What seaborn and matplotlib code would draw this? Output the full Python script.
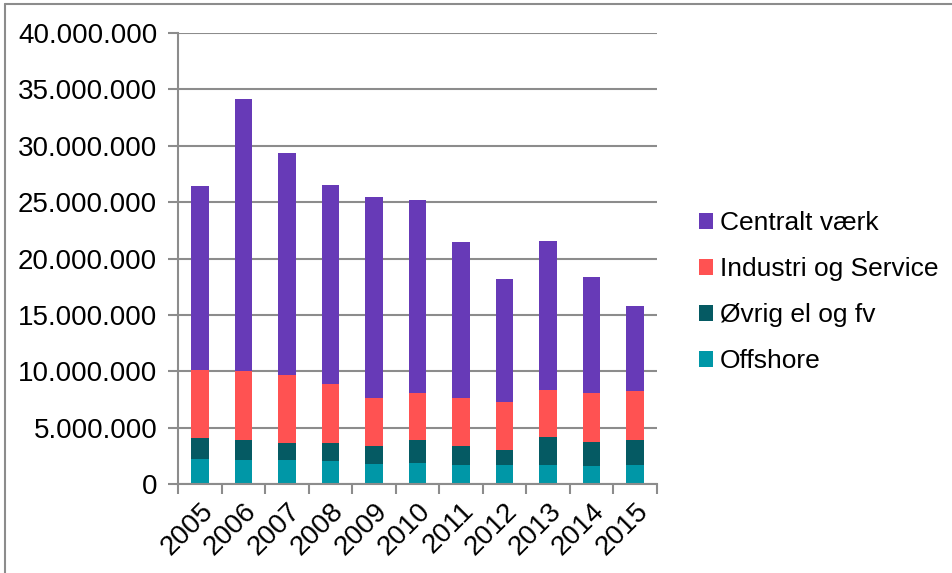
import numpy as np
import pandas as pd
import seaborn as sns
import matplotlib.pyplot as plt
from matplotlib.lines import Line2D
from matplotlib.ticker import FuncFormatter, MultipleLocator

years = ['2005', '2006', '2007', '2008', '2009', '2010', '2011', '2012', '2013', '2014', '2015']
offshore = [2.22, 2.16, 2.16, 2.04, 1.81, 1.88, 1.72, 1.72, 1.72, 1.63, 1.72]
ovrig = [1.89, 1.75, 1.48, 1.57, 1.56, 2.02, 1.63, 1.27, 2.43, 2.13, 2.16]
industri = [6.04, 6.07, 6.04, 5.30, 4.30, 4.20, 4.29, 4.30, 4.20, 4.27, 4.38]
central = [16.32, 24.18, 19.72, 17.61, 17.79, 17.13, 13.78, 10.87, 13.21, 10.33, 7.50]

series = ['Offshore', 'Øvrig el og fv', 'Industri og Service', 'Centralt værk']
colors = ['#0097A7', '#055A63', '#FF5252', '#673AB7']

df = pd.DataFrame({'year': years, 'Offshore': offshore, 'Øvrig el og fv': ovrig,
                   'Industri og Service': industri, 'Centralt værk': central})
for s in series:
    df[s] = df[s] * 1e6

sns.set_theme(style='white')
plt.rcParams['font.family'] = ['Liberation Sans', 'DejaVu Sans']

fig = plt.figure(figsize=(9.52, 5.73), dpi=100)
ax = fig.add_axes([0.187, 0.1553, 0.503, 0.7871])

# stacked bars: draw cumulative totals from top series down
cum = df[series].cumsum(axis=1)
for s, c in reversed(list(zip(series, colors))):
    sns.barplot(x=df['year'], y=cum[s], color=c, width=0.405, ax=ax,
                linewidth=0, saturation=1, label=s)

ax.set_ylim(0, 40e6)
ax.set_xlim(-0.5, 10.5)
ax.yaxis.set_major_locator(MultipleLocator(5e6))
ax.yaxis.set_major_formatter(FuncFormatter(lambda v, p: f'{int(v):,}'.replace(',', '.')))
ax.set_xlabel('')
ax.set_ylabel('')

ax.grid(axis='y', color='#8c8c8c', linewidth=1.5)
ax.set_axisbelow(True)
for side in ['top', 'right']:
    ax.spines[side].set_visible(False)
for side in ['left', 'bottom']:
    ax.spines[side].set_color('#8c8c8c')
    ax.spines[side].set_linewidth(1.5)

ax.tick_params(axis='y', which='major', left=True, length=7, width=1.5, color='#8c8c8c',
               labelsize=20, pad=8, labelcolor='black')
ax.set_xticks(np.arange(-0.5, 11, 1), minor=True)
ax.tick_params(axis='x', which='minor', bottom=True, length=7, width=1.5, color='#8c8c8c')
ax.tick_params(axis='x', which='major', bottom=False, labelsize=20, pad=4, labelcolor='black')
for lab in ax.get_xticklabels():
    lab.set_rotation(45)
    lab.set_ha('right')
    lab.set_va('top')
    lab.set_rotation_mode('anchor')

handles, labels = ax.get_legend_handles_labels()
if ax.get_legend() is not None:
    ax.get_legend().remove()
leg = fig.legend(handles, labels, loc='center left', bbox_to_anchor=(0.709, 0.49),
                 frameon=False, fontsize=19, handlelength=0.55, handleheight=0.55,
                 handletextpad=0.25, labelspacing=0.83)
for t in leg.get_texts():
    t.set_color('black')

# outer chart frame
fig.add_artist(Line2D([5 / 952, 1], [1 - 4 / 573, 1 - 4 / 573], transform=fig.transFigure,
                      color='#8c8c8c', linewidth=1.5))
fig.add_artist(Line2D([5 / 952, 5 / 952], [0, 1 - 4 / 573], transform=fig.transFigure,
                      color='#8c8c8c', linewidth=1.5))

fig.savefig('out.png', dpi=100)
